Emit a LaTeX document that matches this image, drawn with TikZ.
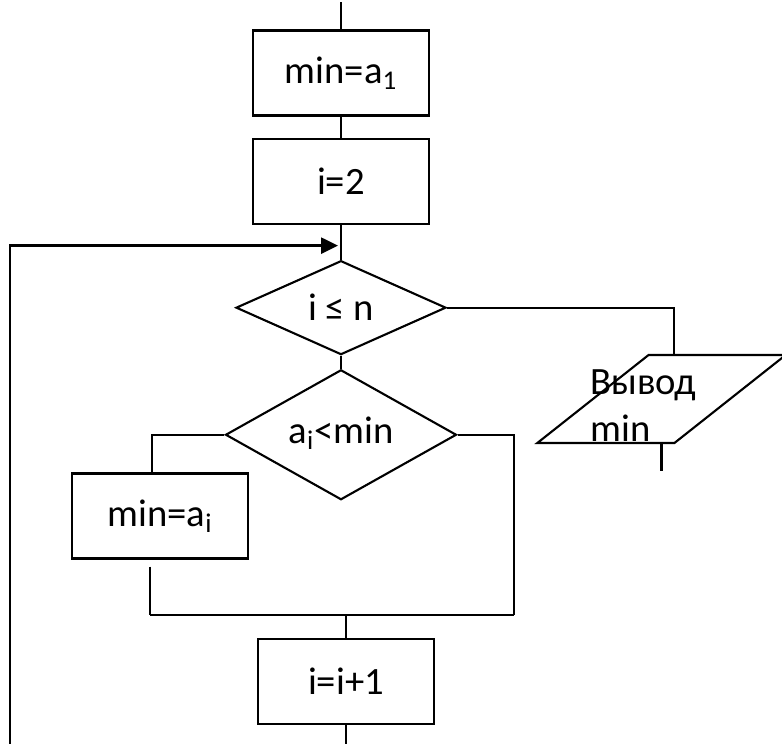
\documentclass[tikz,border=0pt]{standalone}
\usepackage{fontspec}
\setmainfont{Carlito}
\usetikzlibrary{arrows.meta,positioning,shapes.geometric}

\begin{document}
\begin{tikzpicture}
  [x=0.02cm, y=0.02cm,
   every node/.style={font=\fontsize{22}{27}\selectfont},
   process/.style={draw, line width=1.2pt, minimum width=3.52cm,
     minimum height=1.7cm, inner sep=0pt},
   decision/.style={diamond, draw, line width=1.2pt, inner sep=0pt, aspect=2},
   io/.style={trapezium, trapezium left angle=61, trapezium right angle=119,
     trapezium stretches=true, draw, line width=1.2pt,
     minimum width=4.98cm, minimum height=1.76cm, inner sep=2pt},
   link/.style={line width=1.2pt},
   back/.style={->, >={Triangle[length=0.34cm, width=0.32cm]}, line width=1.5pt}]

  \useasboundingbox (0,0) rectangle (782,-744);

  \node[process]   (init)                              at (341,-73) {min=a\textsubscript{1}};
  \coordinate[above=0.54cm of init]   (top);
  \node[process]   (second)  [below=0.42cm of init]   {i=2};
  \coordinate[below=0.42cm of second] (entry);
  \node[decision, minimum width=4.2cm, minimum height=1.88cm]
                   (loop)    [below=0.7cm of second]  {i ≤ n};
  \node[decision, minimum width=4.62cm, minimum height=2.6cm]
                   (test)    [below=0.26cm of loop]   {\raisebox{0.18cm}{a\textsubscript{i}<min}};
  \node[process]   (update)                            at (160,-516) {min=a\textsubscript{i}};
  \coordinate (updin)  at ([xshift=-0.16cm]update.north);
  \coordinate (updout) at ([xshift=-0.2cm]update.south);
  \coordinate[below=2.28cm of test.south, xshift=0.1cm] (merge);
  \coordinate[right=3.36cm of merge]  (mergeR);
  \node[process]   (incr)    [below=0.46cm of merge]  {i=i+1};
  \coordinate (corner) at (10,-770);

  \node[io]        (out)                               at (661.5,-399) {\strut};
  \node[anchor=north west, align=left, inner sep=0pt]
                   (outtext)                           at (590,-369) {Вывод\\min};
  \coordinate (outin) at ([xshift=0.25cm]out.north);
  \coordinate[below=0.54cm of out.south] (outend);

  % main column
  \draw[link] (top) -- (init);
  \draw[link] (init) -- (second);
  \draw[link] (second) -- (loop);
  \draw[link] (loop) -- (test);
  \draw[link] (merge) -- (incr);

  % exit branch
  \draw[link] (loop.east) -| (outin);
  \draw[link] (out.south) -- (outend);

  % condition branches
  \draw[link] (test.west) -| (updin);
  \draw[link, shorten <=0.14cm] (updout) -- (updout |- merge);
  \draw[link] (test.east) -| (mergeR);
  \draw[link] (updout |- merge) -- (mergeR);

  % back to the loop test
  \draw[back, shorten >=0.06cm] (incr.south) |- (corner) |- (entry);
\end{tikzpicture}
\end{document}
